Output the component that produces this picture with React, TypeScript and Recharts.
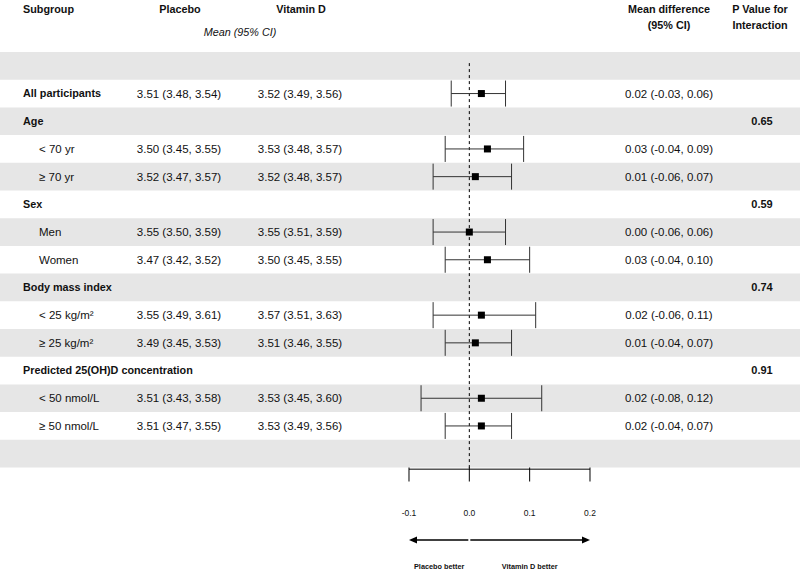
import React from 'react';
import { ComposedChart, Scatter, ErrorBar, XAxis, YAxis, ReferenceArea, ReferenceLine } from 'recharts';

const subgroups = [
  '', 'All participants', 'Age', '< 70 yr', '≥ 70 yr', 'Sex', 'Men', 'Women',
  'Body mass index', '< 25 kg/m²', '≥ 25 kg/m²', 'Predicted 25(OH)D concentration',
  '< 50 nmol/L', '≥ 50 nmol/L', '',
];
const isHeading = [false, true, true, false, false, true, false, false, true, false, false, true, false, false, false];
const placebo = [
  '', '3.51 (3.48, 3.54)', '', '3.50 (3.45, 3.55)', '3.52 (3.47, 3.57)', '', '3.55 (3.50, 3.59)',
  '3.47 (3.42, 3.52)', '', '3.55 (3.49, 3.61)', '3.49 (3.45, 3.53)', '', '3.51 (3.43, 3.58)',
  '3.51 (3.47, 3.55)', '',
];
const vitaminD = [
  '', '3.52 (3.49, 3.56)', '', '3.53 (3.48, 3.57)', '3.52 (3.48, 3.57)', '', '3.55 (3.51, 3.59)',
  '3.50 (3.45, 3.55)', '', '3.57 (3.51, 3.63)', '3.51 (3.46, 3.55)', '', '3.53 (3.45, 3.60)',
  '3.53 (3.49, 3.56)', '',
];
const meanDiff = [null, 0.02, null, 0.03, 0.01, null, 0.0, 0.03, null, 0.02, 0.01, null, 0.02, 0.02, null];
const ciLow = [null, -0.03, null, -0.04, -0.06, null, -0.06, -0.04, null, -0.06, -0.04, null, -0.08, -0.04, null];
const ciHigh = [null, 0.06, null, 0.09, 0.07, null, 0.06, 0.1, null, 0.11, 0.07, null, 0.12, 0.07, null];
const pInteraction = ['', '', '0.65', '', '', '0.59', '', '', '0.74', '', '', '0.91', '', '', ''];
const xTicks = [-0.1, 0, 0.1, 0.2];

const FONT = 'Liberation Sans, Arial, Helvetica, sans-serif';
const TEXT = '#111';
const BAND = '#e6e6e6';
const X_DOMAIN: [number, number] = [-0.7779, 0.5481];
const rows = subgroups.map((_, i) => i);

const points = rows
  .filter((i) => meanDiff[i] !== null)
  .map((i) => ({
    row: i,
    mean: meanDiff[i] as number,
    err: [(meanDiff[i] as number) - (ciLow[i] as number), (ciHigh[i] as number) - (meanDiff[i] as number)],
  }));

const fmt = (v: number) => v.toFixed(2);

// row texts are drawn as the label of each row's band
function rowLabel(i: number) {
  return (props: any) => {
    const vb = props.viewBox || {};
    const y = vb.y + vb.height / 2;
    const m = meanDiff[i];
    return (
      <g fontFamily={FONT} fill={TEXT}>
        <text
          x={isHeading[i] ? 23 : 39}
          y={y}
          dy="0.35em"
          fontSize={isHeading[i] ? 10.8 : 11.5}
          fontWeight={isHeading[i] ? 'bold' : 'normal'}
        >
          {subgroups[i]}
        </text>
        <text x={179} y={y} dy="0.35em" fontSize={11.5} textAnchor="middle">{placebo[i]}</text>
        <text x={300} y={y} dy="0.35em" fontSize={11.5} textAnchor="middle">{vitaminD[i]}</text>
        {m !== null && (
          <text x={669} y={y} dy="0.35em" fontSize={11.5} textAnchor="middle">
            {`${fmt(m)} (${fmt(ciLow[i] as number)}, ${fmt(ciHigh[i] as number)})`}
          </text>
        )}
        <text x={762} y={y} dy="0.35em" fontSize={11} fontWeight="bold" textAnchor="middle">{pInteraction[i]}</text>
      </g>
    );
  };
}

function XTick(props: any) {
  const { x, payload } = props;
  return (
    <text x={x} y={513} dy="0.35em" fontSize={8.5} fontFamily={FONT} fill={TEXT} textAnchor="middle">
      {payload.value.toFixed(1)}
    </text>
  );
}

function arrowShape(label: string) {
  return (p: any) => {
    const { x1, y1, x2, y2 } = p;
    const dir = x2 > x1 ? 1 : -1;
    const mid = (x1 + x2) / 2;
    return (
      <g>
        <line x1={x1 + dir} y1={y1} x2={x2 - dir * 6} y2={y2} stroke="#000" strokeWidth={1.5} />
        <polygon points={`${x2},${y2} ${x2 - dir * 8},${y2 - 3.5} ${x2 - dir * 8},${y2 + 3.5}`} fill="#000" />
        <text x={mid} y={y1 + 26} dy="0.35em" fontSize={7.3} fontWeight="bold" fontFamily={FONT} fill={TEXT} textAnchor="middle">
          {label}
        </text>
      </g>
    );
  };
}

const headerStyle = { fontFamily: FONT, fill: TEXT };

export default function App() {
  return (
    <div style={{ position: 'absolute', left: 0, top: 0, width: 800, height: 571, background: '#fff' }}>
      <ComposedChart width={800} height={571} margin={{ top: 52, right: 0, bottom: 0, left: 0 }}>
        {rows.map((i) => (
          <ReferenceArea
            key={`band-${i}`}
            x1={X_DOMAIN[0]}
            x2={X_DOMAIN[1]}
            y1={i - 0.5}
            y2={i + 0.5}
            fill={i % 2 === 0 ? BAND : '#fff'}
            fillOpacity={i % 2 === 0 ? 1 : 0}
            stroke="none"
            ifOverflow="visible"
            label={{ content: rowLabel(i) }}
          />
        ))}
        <XAxis
          type="number"
          dataKey="mean"
          domain={X_DOMAIN}
          ticks={xTicks}
          interval={0}
          height={103.5}
          axisLine={false}
          tickSize={14}
          tickLine={{ stroke: '#000', strokeWidth: 1 }}
          tick={<XTick />}
          allowDataOverflow
        />
        <YAxis type="number" dataKey="row" domain={[-0.5, 14.5]} reversed hide allowDataOverflow />
        <ReferenceLine
          segment={[{ x: 0, y: -0.1 }, { x: 0, y: 14.56 }]}
          stroke="#000"
          strokeDasharray="3 3"
          ifOverflow="visible"
        />
        <ReferenceLine
          segment={[{ x: -0.1, y: 14.56 }, { x: 0.2, y: 14.56 }]}
          stroke="#000"
          ifOverflow="visible"
        />
        <ReferenceLine
          segment={[{ x: 0, y: 17.12 }, { x: -0.1, y: 17.12 }]}
          ifOverflow="visible"
          shape={arrowShape('Placebo better')}
        />
        <ReferenceLine
          segment={[{ x: 0, y: 17.12 }, { x: 0.2, y: 17.12 }]}
          ifOverflow="visible"
          shape={arrowShape('Vitamin D better')}
        />
        <Scatter
          data={points}
          isAnimationActive={false}
          shape={(p: any) => <rect x={p.cx - 3.5} y={p.cy - 3.5} width={7} height={7} fill="#000" />}
        >
          <ErrorBar dataKey="err" direction="x" width={13} stroke="#333" strokeWidth={1} />
        </Scatter>
        <g style={headerStyle}>
          <text x={23} y={9} dy="0.35em" fontSize={10.8} fontWeight="bold">Subgroup</text>
          <text x={180} y={9} dy="0.35em" fontSize={10.8} fontWeight="bold" textAnchor="middle">Placebo</text>
          <text x={301} y={9} dy="0.35em" fontSize={10.8} fontWeight="bold" textAnchor="middle">Vitamin D</text>
          <text x={240} y={32} dy="0.35em" fontSize={10.8} fontStyle="italic" textAnchor="middle">Mean (95% CI)</text>
          <text x={669} y={9} dy="0.35em" fontSize={10.8} fontWeight="bold" textAnchor="middle">Mean difference</text>
          <text x={669} y={25} dy="0.35em" fontSize={10.8} fontWeight="bold" textAnchor="middle">(95% CI)</text>
          <text x={760} y={9} dy="0.35em" fontSize={10.8} fontWeight="bold" textAnchor="middle">P Value for</text>
          <text x={760} y={25} dy="0.35em" fontSize={10.8} fontWeight="bold" textAnchor="middle">Interaction</text>
        </g>
      </ComposedChart>
    </div>
  );
}
